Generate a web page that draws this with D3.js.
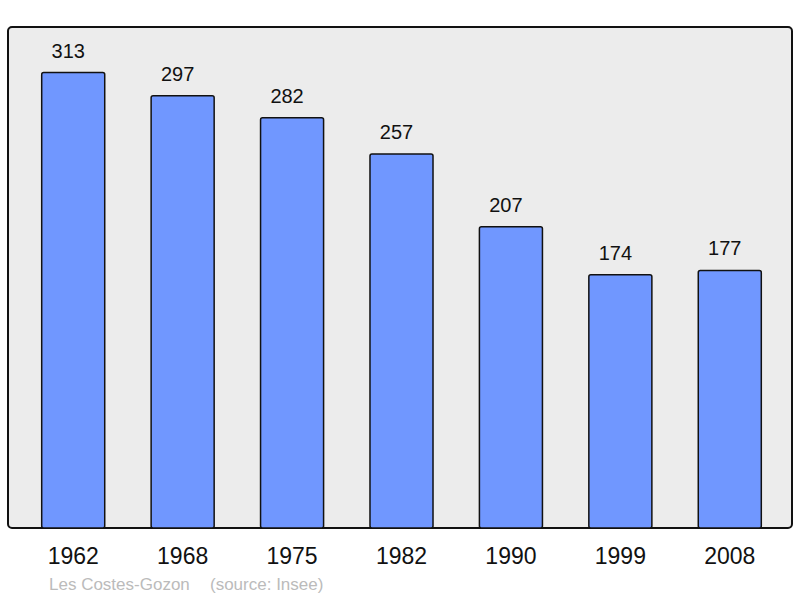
<!DOCTYPE html>
<html>
<head>
<meta charset="utf-8">
<script src="https://cdn.jsdelivr.net/npm/d3@7"></script>
<style>
  body { margin: 0; background: #fff; }
  text { font-family: "Liberation Sans", Arial, sans-serif; }
</style>
</head>
<body>
<svg id="chart" width="800" height="598"></svg>
<script>
// population by census year
const years = ["1962", "1968", "1975", "1982", "1990", "1999", "2008"];
const population = [313, 297, 282, 257, 207, 174, 177];
const commune = "Les Costes-Gozon";
const source = "(source: Insee)";

let svg = d3.select("#chart");

let plotLeft = 8, plotRight = 792, plotTop = 27, plotBottom = 528;

// frame
svg.append("rect")
  .attr("x", plotLeft).attr("y", plotTop)
  .attr("width", plotRight - plotLeft).attr("height", plotBottom - plotTop)
  .attr("rx", 4)
  .attr("fill", "#ececec")
  .attr("stroke", "#111")
  .attr("stroke-width", 2);

let x = d3.scaleBand()
  .domain(years)
  .range([18.5, 784.5])
  .paddingInner(0.424)
  .paddingOuter(0.212);

let y = d3.scaleLinear()
  .domain([0, d3.max(population) * 1.1])
  .range([plotBottom, plotTop]);

let data = years.map((yr, i) => ({ year: yr, value: population[i] }));

// bars
svg.selectAll("rect.bar")
  .data(data)
  .join("rect")
  .attr("class", "bar")
  .attr("x", d => x(d.year))
  .attr("y", d => y(d.value))
  .attr("width", x.bandwidth())
  .attr("height", d => plotBottom - y(d.value))
  .attr("rx", 2)
  .attr("fill", "#7097ff")
  .attr("stroke", "#111")
  .attr("stroke-width", 1.5);

// value labels (sit a little left of the bar centre, as in the original)
svg.selectAll("text.val")
  .data(data)
  .join("text")
  .attr("class", "val")
  .attr("x", d => x(d.year) + x.bandwidth() / 2)
  .attr("y", d => y(d.value) - 15)
  .attr("dx", -5)
  .attr("text-anchor", "middle")
  .attr("font-size", 20)
  .attr("fill", "#111")
  .text(d => d.value);

// year labels
let axis = d3.axisBottom(x).tickSize(0).tickPadding(0);
let g = svg.append("g").attr("transform", `translate(0,${plotBottom})`).call(axis);
g.select(".domain").remove();
g.selectAll("text")
  .attr("y", 36)
  .attr("dy", 0)
  .attr("font-size", 23)
  .attr("font-family", "'Liberation Sans', Arial, sans-serif")
  .attr("fill", "#111");

// footer
svg.append("text")
  .attr("x", 49).attr("y", 590)
  .attr("font-size", 17)
  .attr("fill", "#bbb")
  .text(commune);
svg.append("text")
  .attr("x", 210).attr("y", 590)
  .attr("font-size", 17)
  .attr("fill", "#bbb")
  .text(source);
</script>
</body>
</html>
